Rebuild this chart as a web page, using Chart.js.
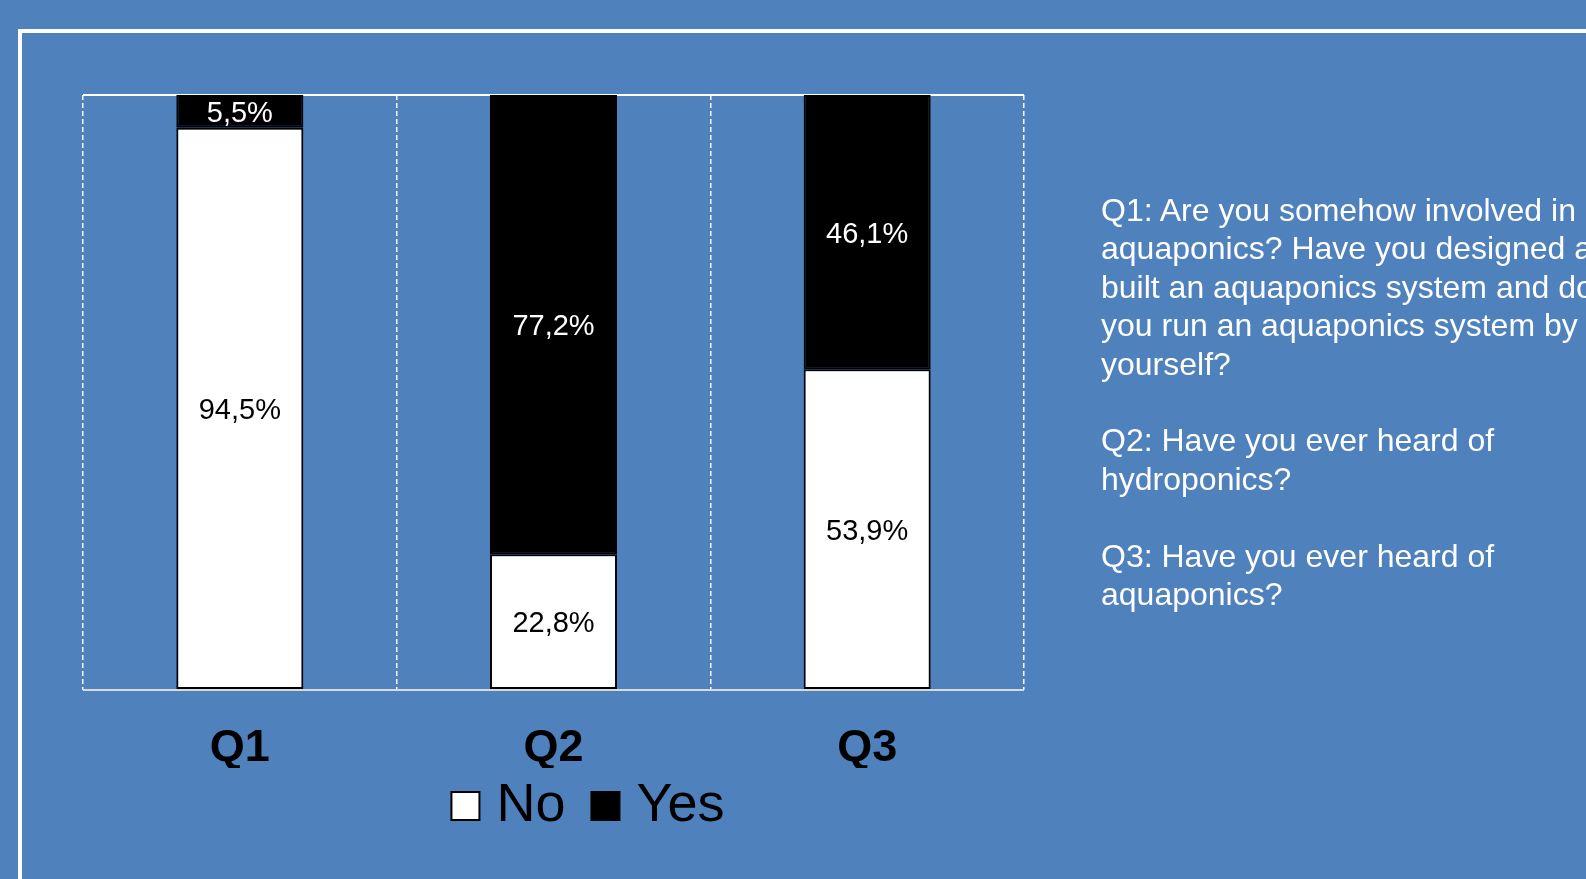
<!DOCTYPE html>
<html>
<head>
<meta charset="utf-8">
<script src="https://cdn.jsdelivr.net/npm/chart.js@4.4.1/dist/chart.umd.min.js"></script>
<style>
  html, body { margin: 0; padding: 0; width: 1586px; height: 879px; overflow: hidden; background: #4f81bd; }
  #marco { position: absolute; left: 18px; top: 29px; width: 2000px; height: 2000px;
           border-top: 4px solid #fff; border-left: 4px solid #fff; }
  #grafico { position: absolute; left: 0; top: 0; }
  #preguntas { position: absolute; left: 1101px; top: 191px; color: #fff; white-space: pre;
               font-family: "Liberation Sans", Arial, sans-serif; font-size: 32px; line-height: 38.4px; }
</style>
</head>
<body>
<div id="marco"></div>
<canvas id="grafico" width="1103" height="879"></canvas>
<div id="preguntas">Q1: Are you somehow involved in
aquaponics? Have you designed and
built an aquaponics system and do
you run an aquaponics system by
yourself?

Q2: Have you ever heard of
hydroponics?

Q3: Have you ever heard of
aquaponics?</div>
<script>
const categorias = ["Q1", "Q2", "Q3"];
const valoresNo = [94.5, 22.8, 53.9];
const valoresYes = [5.5, 77.2, 46.1];

const fuente = "'Liberation Sans', Arial, sans-serif";

// etiquetas de porcentaje dentro de cada segmento
const etiquetas = {
    id: "etiquetas",
    afterDatasetsDraw(chart) {
        const ctx = chart.ctx;
        ctx.save();
        ctx.font = "29px " + fuente;
        ctx.textAlign = "center";
        ctx.textBaseline = "alphabetic";
        chart.data.datasets.forEach((ds, i) => {
            const meta = chart.getDatasetMeta(i);
            meta.data.forEach((barra, j) => {
                const v = ds.data[j];
                ctx.fillStyle = i === 0 ? "#000" : "#fff";
                ctx.fillText(v.toFixed(1).replace(".", ",") + "%", barra.x, (barra.y + barra.base) / 2 + 10.5);
            });
        });
        ctx.restore();
    }
};

// subir la leyenda para que quede pegada a las etiquetas Q1..Q3
const subirLeyenda = {
    id: "subirLeyenda",
    afterLayout(chart) {
        if (chart.legend) {
            chart.legend.top -= 25;
            chart.legend.bottom -= 25;
        }
    }
};

new Chart(document.getElementById("grafico").getContext("2d"), {
    type: "bar",
    data: {
        labels: categorias,
        datasets: [
            {
                label: "No",
                data: valoresNo,
                backgroundColor: "#fff",
                borderColor: "#000",
                borderWidth: 2,
                borderSkipped: false,
                categoryPercentage: 1,
                barPercentage: 0.405
            },
            {
                label: "Yes",
                data: valoresYes,
                backgroundColor: "#000",
                borderColor: "#000",
                borderWidth: 2,
                borderSkipped: false,
                categoryPercentage: 1,
                barPercentage: 0.405
            }
        ]
    },
    options: {
        responsive: false,
        animation: false,
        layout: { padding: { left: 83, top: 95, right: 0, bottom: 11 } },
        plugins: {
            tooltip: { enabled: false },
            legend: {
                position: "bottom",
                labels: {
                    color: "#000",
                    font: { family: fuente, size: 54 },
                    usePointStyle: true,
                    pointStyle: "rect",
                    boxWidth: 8,
                    boxHeight: 28,
                    padding: 36
                }
            }
        },
        scales: {
            x: {
                stacked: true,
                grid: { color: "#fff", lineWidth: 1.5, drawTicks: false, offset: true },
                border: { display: false, dash: [5, 3] },
                ticks: { color: "#000", font: { family: fuente, size: 45, weight: "bold", lineHeight: 0.8 }, padding: 41 },
                afterFit: (eje) => { eje.height = 78; }
            },
            y: {
                stacked: true,
                position: "right",
                min: 0,
                max: 100,
                ticks: { display: false, stepSize: 100 },
                grid: {
                    drawTicks: false,
                    color: (c) => c.tick.value === 100 ? "#fff" : (c.tick.value === 0 ? "#d9d9d9" : "transparent"),
                    lineWidth: 2
                },
                border: { display: false },
                afterFit: (eje) => { eje.width = 79; }
            }
        }
    },
    plugins: [etiquetas, subirLeyenda]
});
</script>
</body>
</html>
